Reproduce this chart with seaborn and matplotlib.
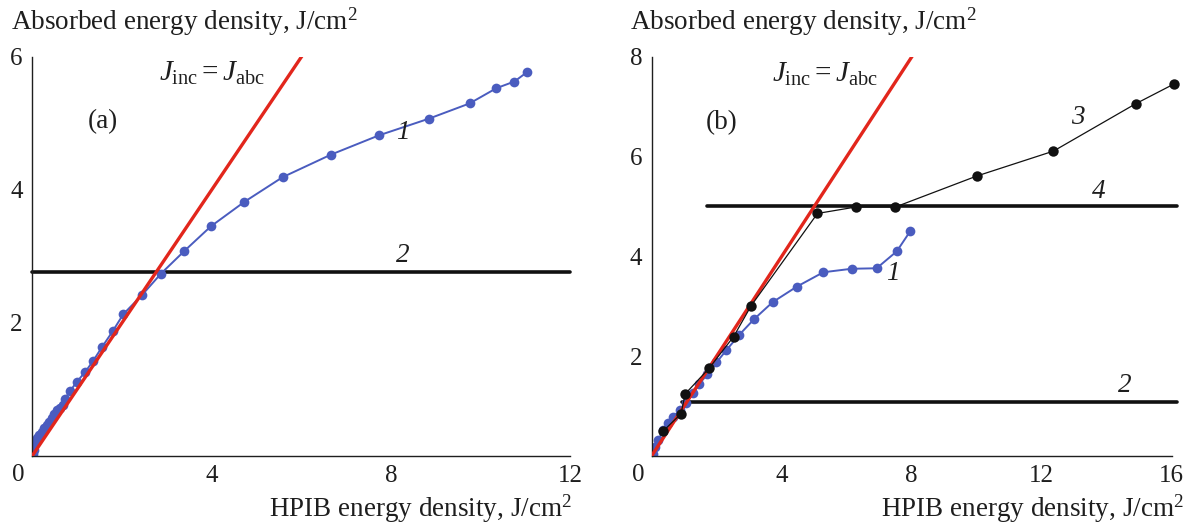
import matplotlib
matplotlib.use("Agg")
import matplotlib.pyplot as plt
import numpy as np
import pandas as pd
import seaborn as sns

sns.set_style("white")
plt.rcParams["font.family"] = ["Liberation Serif", "DejaVu Serif"]
plt.rcParams["mathtext.fontset"] = "custom"
plt.rcParams["mathtext.rm"] = "Liberation Serif"
plt.rcParams["mathtext.it"] = "Liberation Serif:italic"

# Panel (a): curve 1, absorbed vs incident energy density
a1_x = [0.02, 0.04, 0.06, 0.10, 0.15, 0.21, 0.27, 0.32, 0.38, 0.43, 0.49, 0.54, 0.62,
        0.69, 0.73, 0.84, 0.99, 1.18, 1.36, 1.55, 1.79, 2.03, 2.45, 2.87, 3.39,
        3.98, 4.73, 5.58, 6.66, 7.73, 8.84, 9.75, 10.35, 10.75, 11.03]
a1_y = [0.02, 0.08, 0.19, 0.27, 0.31, 0.36, 0.41, 0.46, 0.50, 0.56, 0.62, 0.69, 0.72,
        0.76, 0.86, 0.97, 1.11, 1.26, 1.43, 1.63, 1.87, 2.13, 2.42, 2.74, 3.08,
        3.45, 3.82, 4.19, 4.53, 4.82, 5.07, 5.30, 5.53, 5.63, 5.77]
a2_level = 2.76

# Panel (b): curves 1 and 3, levels 2 and 4
b1_x = [0.03, 0.10, 0.20, 0.36, 0.51, 0.66, 0.87, 1.04, 1.28, 1.46, 1.71, 1.99, 2.30,
        2.70, 3.15, 3.72, 4.46, 5.28, 6.15, 6.92, 7.54, 7.95]
b1_y = [0.03, 0.18, 0.31, 0.52, 0.65, 0.78, 0.92, 1.06, 1.25, 1.44, 1.63, 1.87, 2.12,
        2.43, 2.74, 3.08, 3.39, 3.68, 3.75, 3.76, 4.10, 4.50]
b3_x = [0.36, 0.90, 1.03, 1.76, 2.52, 3.06, 5.10, 6.29, 7.50, 10.0, 12.36, 14.89, 16.08]
b3_y = [0.50, 0.84, 1.24, 1.75, 2.39, 3.01, 4.86, 4.99, 4.99, 5.61, 6.11, 7.06, 7.46]
b2_level = 1.08
b4_level = 5.0

BLUE = "#4a5cbf"
RED = "#e2261c"
INK = "#1e1e1e"
TICK_FS = 18
TEXT_FS = 19.5

fig = plt.figure(figsize=(11.88, 5.25), dpi=100)
ax_a = fig.add_axes([0.0272, 0.132, 0.4530, 0.7596])
ax_b = fig.add_axes([0.5486, 0.132, 0.4377, 0.7596])


def style_axes(ax, xmax, ymax, xticks, yticks):
    ax.set_xlim(0, xmax)
    ax.set_ylim(0, ymax)
    for s in ("top", "right"):
        ax.spines[s].set_visible(False)
    for s in ("left", "bottom"):
        ax.spines[s].set_linewidth(1.0)
        ax.spines[s].set_color(INK)
    ax.set_xticks(xticks)
    ax.set_yticks(yticks)
    ax.tick_params(direction="in", length=5, width=1.0, labelsize=TICK_FS,
                   colors=INK, pad=7)
    ax.set_xlabel("")
    ax.set_ylabel("")
    ax.set_facecolor("white")


def label(ax, x, y, s, italic=False, size=TEXT_FS):
    ax.text(x, y, s, fontsize=size, ha="center", va="center", color=INK,
            style="italic" if italic else "normal")


# ---- panel (a)
ax_a.plot([0, 6.2], [0, 6.2], color=RED, lw=2.4, zorder=3)
ax_a.plot([0, 12], [a2_level, a2_level], color="#111111", lw=2.6, zorder=2, clip_on=False)
df_a1 = pd.DataFrame({"x": a1_x, "y": a1_y})
sns.lineplot(data=df_a1, x="x", y="y", ax=ax_a, color=BLUE, lw=1.4, sort=False,
             estimator=None, marker="o", markersize=7, markeredgewidth=0, zorder=2)
style_axes(ax_a, 12, 6, [4, 8, 12], [2, 4, 6])
label(ax_a, 4.0, 5.75, r"$J_{\mathrm{inc}} = J_{\mathrm{abc}}$", size=21)
label(ax_a, 1.58, 5.02, "(a)")
label(ax_a, 8.27, 4.86, "1", italic=True)
label(ax_a, 8.27, 3.01, "2", italic=True)

# ---- panel (b)
ax_b.plot([0, 8.3], [0, 8.3], color=RED, lw=2.4, zorder=3)
ax_b.plot([0.92, 16.15], [b2_level, b2_level], color="#111111", lw=2.6, zorder=2, clip_on=False)
ax_b.plot([1.70, 16.15], [b4_level, b4_level], color="#111111", lw=2.6, zorder=2, clip_on=False)
df_b1 = pd.DataFrame({"x": b1_x, "y": b1_y})
sns.lineplot(data=df_b1, x="x", y="y", ax=ax_b, color=BLUE, lw=1.4, sort=False,
             estimator=None, marker="o", markersize=7, markeredgewidth=0, zorder=2)
df_b3 = pd.DataFrame({"x": b3_x, "y": b3_y})
sns.lineplot(data=df_b3, x="x", y="y", ax=ax_b, color="#111111", lw=0.9, sort=False,
             estimator=None, marker="o", markersize=7.5, markeredgewidth=0, zorder=4)
ax_b.lines[-1].set_clip_on(False)
style_axes(ax_b, 16, 8, [4, 8, 12, 16], [2, 4, 6, 8])
label(ax_b, 5.33, 7.64, r"$J_{\mathrm{inc}} = J_{\mathrm{abc}}$", size=21)
label(ax_b, 2.16, 6.69, "(b)")
label(ax_b, 13.1, 6.78, "3", italic=True)
label(ax_b, 13.74, 5.30, "4", italic=True)
label(ax_b, 7.41, 3.66, "1", italic=True)
label(ax_b, 14.57, 1.41, "2", italic=True)

# corner zeros and axis titles
for x0 in (18 / 1188, 638 / 1188):
    fig.text(x0, 1 - 475 / 525, "0", fontsize=TICK_FS, ha="center", va="center", color=INK)

ylab = "Absorbed energy density, J/cm$^{2}$"
xlab = "HPIB energy density, J/cm$^{2}$"
fig.text(11 / 1188, 1 - 22 / 525, ylab, fontsize=TEXT_FS, ha="left", va="center", color=INK)
fig.text(630 / 1188, 1 - 22 / 525, ylab, fontsize=TEXT_FS, ha="left", va="center", color=INK)
fig.text(572 / 1188, 1 - 509 / 525, xlab, fontsize=TEXT_FS, ha="right", va="center", color=INK)
fig.text(1184 / 1188, 1 - 509 / 525, xlab, fontsize=TEXT_FS, ha="right", va="center", color=INK)

fig.savefig("out.png", dpi=100, facecolor="white")
